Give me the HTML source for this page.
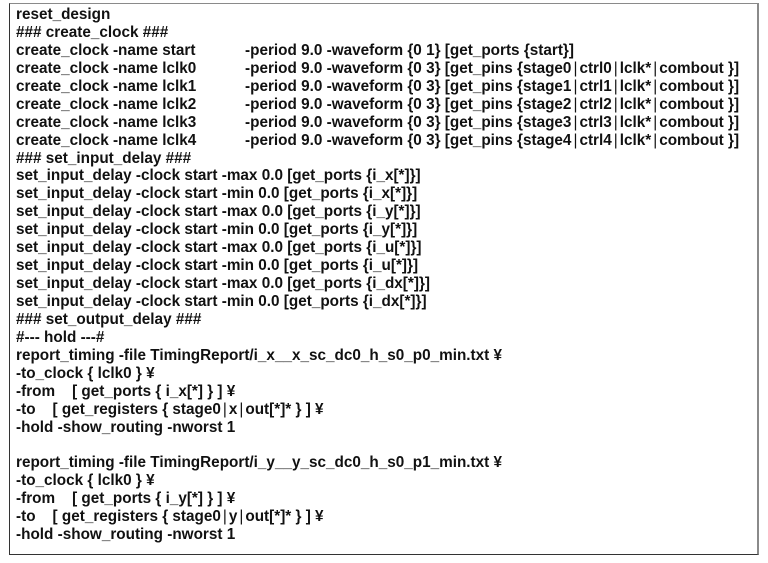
<!DOCTYPE html>
<html>
<head>
<meta charset="utf-8">
<style>
  html, body { margin:0; padding:0; background:#fff; }
  body { width:768px; height:563px; position:relative; overflow:hidden; }
  .box {
    position:absolute; left:9px; top:3px; width:747px; height:550px;
    border-left:1px solid #333; border-bottom:1px solid #333;
    border-top:1px solid #8a8a8a; border-right:2px solid #8a8a8a;
  }
  .t {
    position:absolute; left:16px; top:6px; margin:0;
    font-family:"Liberation Sans","Noto Sans CJK JP",sans-serif;
    font-weight:bold; font-size:15.3px; line-height:17.94px;
    color:#111; white-space:pre;
  }
  .c2 { position:absolute; left:229px; }
  .l { position:relative; height:17.94px; }
  .p { margin:0 2px; font-weight:normal; }
</style>
</head>
<body>
<div class="box"></div>
<div class="t"><div class="l">reset_design</div><div class="l">### create_clock ###</div><div class="l">create_clock -name start<span class="c2">-period 9.0 -waveform {0 1} [get_ports {start}]</span></div><div class="l">create_clock -name lclk0<span class="c2">-period 9.0 -waveform {0 3} [get_pins {stage0<span class="p">|</span>ctrl0<span class="p">|</span>lclk*<span class="p">|</span>combout }]</span></div><div class="l">create_clock -name lclk1<span class="c2">-period 9.0 -waveform {0 3} [get_pins {stage1<span class="p">|</span>ctrl1<span class="p">|</span>lclk*<span class="p">|</span>combout }]</span></div><div class="l">create_clock -name lclk2<span class="c2">-period 9.0 -waveform {0 3} [get_pins {stage2<span class="p">|</span>ctrl2<span class="p">|</span>lclk*<span class="p">|</span>combout }]</span></div><div class="l">create_clock -name lclk3<span class="c2">-period 9.0 -waveform {0 3} [get_pins {stage3<span class="p">|</span>ctrl3<span class="p">|</span>lclk*<span class="p">|</span>combout }]</span></div><div class="l">create_clock -name lclk4<span class="c2">-period 9.0 -waveform {0 3} [get_pins {stage4<span class="p">|</span>ctrl4<span class="p">|</span>lclk*<span class="p">|</span>combout }]</span></div><div class="l">### set_input_delay ###</div><div class="l">set_input_delay -clock start -max 0.0 [get_ports {i_x[*]}]</div><div class="l">set_input_delay -clock start -min 0.0 [get_ports {i_x[*]}]</div><div class="l">set_input_delay -clock start -max 0.0 [get_ports {i_y[*]}]</div><div class="l">set_input_delay -clock start -min 0.0 [get_ports {i_y[*]}]</div><div class="l">set_input_delay -clock start -max 0.0 [get_ports {i_u[*]}]</div><div class="l">set_input_delay -clock start -min 0.0 [get_ports {i_u[*]}]</div><div class="l">set_input_delay -clock start -max 0.0 [get_ports {i_dx[*]}]</div><div class="l">set_input_delay -clock start -min 0.0 [get_ports {i_dx[*]}]</div><div class="l">### set_output_delay ###</div><div class="l">#--- hold ---#</div><div class="l">report_timing -file TimingReport/i_x__x_sc_dc0_h_s0_p0_min.txt ¥</div><div class="l">-to_clock { lclk0 } ¥</div><div class="l">-from    [ get_ports { i_x[*] } ] ¥</div><div class="l">-to    [ get_registers { stage0<span class="p">|</span>x<span class="p">|</span>out[*]* } ] ¥</div><div class="l">-hold -show_routing -nworst 1</div><div class="l"> </div><div class="l">report_timing -file TimingReport/i_y__y_sc_dc0_h_s0_p1_min.txt ¥</div><div class="l">-to_clock { lclk0 } ¥</div><div class="l">-from    [ get_ports { i_y[*] } ] ¥</div><div class="l">-to    [ get_registers { stage0<span class="p">|</span>y<span class="p">|</span>out[*]* } ] ¥</div><div class="l">-hold -show_routing -nworst 1</div></div>
</body>
</html>
